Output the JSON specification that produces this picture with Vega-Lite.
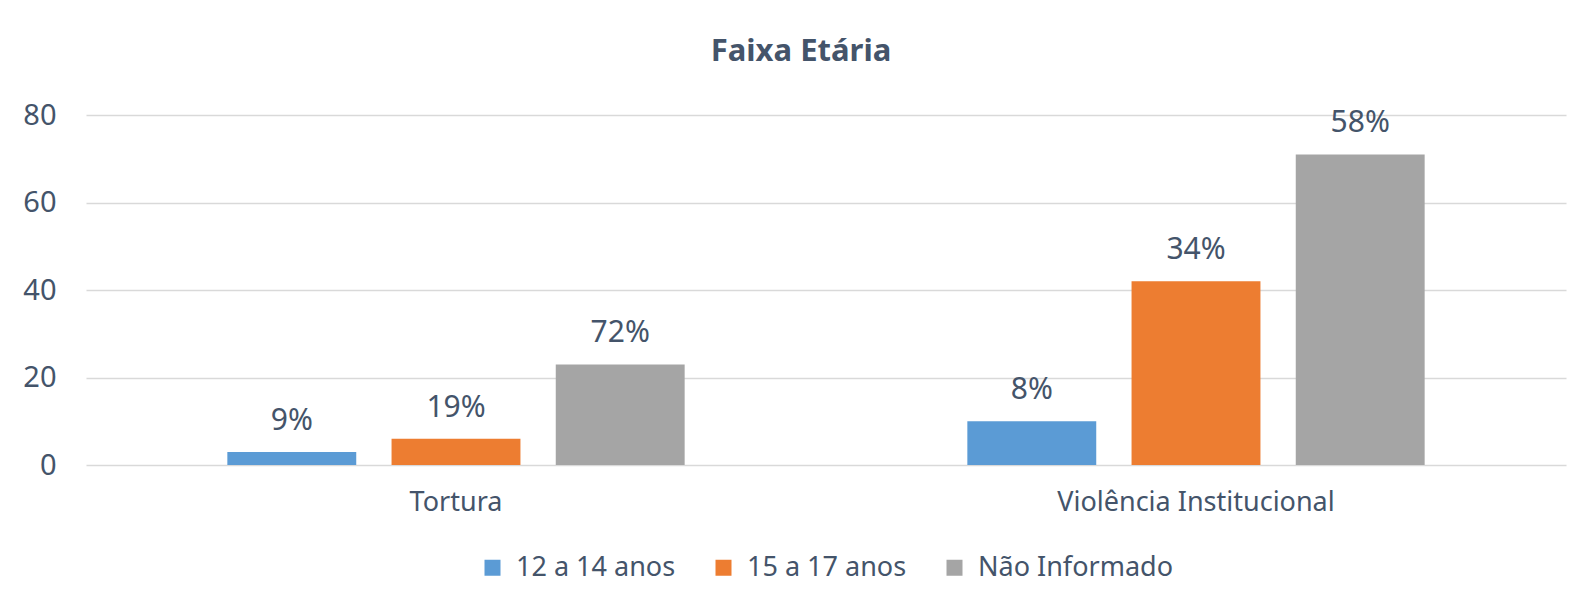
{
  "$schema": "https://vega.github.io/schema/vega-lite/v6.json",
  "autosize": {"type": "none"},
  "width": 1480,
  "height": 350,
  "padding": {"left": 86, "top": 115, "right": 13, "bottom": 141},
  "background": "white",
  "title": {
    "text": "Faixa Etária",
    "anchor": "middle",
    "font": "Noto Sans",
    "fontSize": 31,
    "fontWeight": "bold",
    "color": "#44546a",
    "offset": 33,
    "dx": -25
  },
  "data": {
    "values": [
      {"categoria": "Tortura", "faixa": "12 a 14 anos", "valor": 3, "pct": "9%"},
      {"categoria": "Tortura", "faixa": "15 a 17 anos", "valor": 6, "pct": "19%"},
      {"categoria": "Tortura", "faixa": "Não Informado", "valor": 23, "pct": "72%"},
      {"categoria": "Violência Institucional", "faixa": "12 a 14 anos", "valor": 10, "pct": "8%"},
      {"categoria": "Violência Institucional", "faixa": "15 a 17 anos", "valor": 42, "pct": "34%"},
      {"categoria": "Violência Institucional", "faixa": "Não Informado", "valor": 71, "pct": "58%"}
    ]
  },
  "encoding": {
    "x": {
      "field": "categoria",
      "type": "nominal",
      "sort": null,
      "scale": {"paddingInner": 0.382, "paddingOuter": 0.191},
      "axis": {
        "title": null,
        "labelAngle": 0,
        "ticks": false,
        "domain": false,
        "labelPadding": 24,
        "labelLimit": 0,
        "labelFont": "Noto Sans",
        "labelFontSize": 27,
        "labelColor": "#44546a"
      }
    },
    "xOffset": {
      "field": "faixa",
      "type": "nominal",
      "sort": null,
      "scale": {"paddingInner": 0.215, "paddingOuter": 0}
    },
    "y": {
      "field": "valor",
      "type": "quantitative",
      "scale": {"domain": [0, 80], "nice": false},
      "axis": {
        "title": null,
        "values": [0, 20, 40, 60, 80],
        "ticks": false,
        "domain": false,
        "labelPadding": 30,
        "labelFont": "Noto Sans",
        "labelFontSize": 29,
        "labelColor": "#44546a",
        "gridColor": "#d9d9d9",
        "gridWidth": 1.5
      }
    }
  },
  "layer": [
    {
      "mark": {"type": "bar"},
      "encoding": {
        "color": {
          "field": "faixa",
          "type": "nominal",
          "sort": null,
          "scale": {
            "domain": ["12 a 14 anos", "15 a 17 anos", "Não Informado"],
            "range": ["#5b9bd5", "#ed7d31", "#a5a5a5"]
          },
          "legend": {
            "title": null,
            "orient": "bottom",
            "direction": "horizontal",
            "symbolType": "square",
            "symbolSize": 256,
            "symbolStrokeWidth": 0,
            "labelFont": "Noto Sans",
            "labelFontSize": 27,
            "labelLimit": 0,
            "labelColor": "#44546a",
            "columnPadding": 34,
            "labelOffset": 10,
            "offset": 39
          }
        }
      }
    },
    {
      "mark": {
        "type": "text",
        "baseline": "alphabetic",
        "dy": -22,
        "font": "Noto Sans",
        "fontSize": 30,
        "color": "#44546a"
      },
      "encoding": {
        "text": {"field": "pct", "type": "nominal"}
      }
    }
  ],
  "config": {
    "view": {"stroke": null},
    "legend": {"layout": {"bottom": {"anchor": "middle"}}}
  }
}
